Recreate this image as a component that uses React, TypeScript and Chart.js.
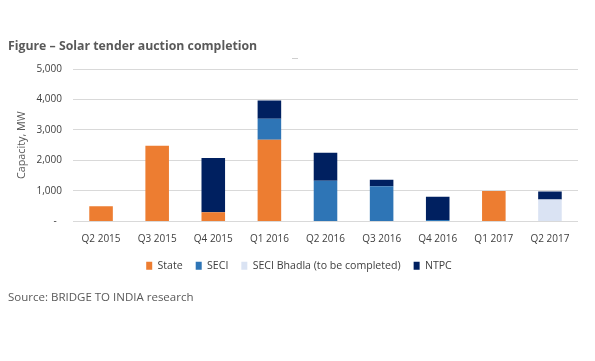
import React, { useEffect, useRef } from "react";
import { Chart, registerables } from "chart.js";

Chart.register(...registerables);

const categories = ["Q2 2015", "Q3 2015", "Q4 2015", "Q1 2016", "Q2 2016", "Q3 2016", "Q4 2016", "Q1 2017", "Q2 2017"];
const stateValues = [500, 2480, 300, 2680, 0, 0, 0, 1000, 0];
const seciValues = [0, 0, 0, 690, 1330, 1150, 50, 0, 0];
const bhadlaValues = [0, 0, 0, 0, 0, 0, 0, 0, 720];
const ntpcValues = [0, 0, 1780, 600, 920, 220, 760, 0, 260];
const yTicks = [0, 1000, 2000, 3000, 4000, 5000];

const titleText = "Figure \u2013 Solar tender auction completion";
const sourceText = "Source: BRIDGE TO INDIA research";
const FONT = "'Open Sans', 'Liberation Sans', sans-serif";
const TEXT = "#595959";

const textPlugin = {
  id: "texts",
  afterDraw(chart: any) {
    const ctx = chart.ctx;
    ctx.save();
    ctx.fillStyle = TEXT;
    ctx.textBaseline = "middle";
    ctx.textAlign = "left";
    ctx.font = `bold 12.3px ${FONT}`;
    ctx.fillText(titleText, 8, 46);
    ctx.font = `11.5px ${FONT}`;
    ctx.fillText(sourceText, 8, 298);
    ctx.strokeStyle = "#cfcfcf";
    ctx.lineWidth = 1;
    ctx.beginPath();
    ctx.moveTo(292, 58.5);
    ctx.lineTo(298, 58.5);
    ctx.stroke();
    ctx.restore();
  },
};

export default function App() {
  const ref = useRef<HTMLCanvasElement>(null);
  useEffect(() => {
    document.body.style.margin = "0";
    const chart = new Chart(ref.current as HTMLCanvasElement, {
      type: "bar",
      data: {
        labels: categories,
        datasets: [
          { label: "State", data: stateValues, backgroundColor: "#ED7D31" },
          { label: "SECI", data: seciValues, backgroundColor: "#2E75B6" },
          { label: "SECI Bhadla (to be completed)", data: bhadlaValues, backgroundColor: "#DAE3F3" },
          { label: "NTPC", data: ntpcValues, backgroundColor: "#002060" },
        ],
      },
      options: {
        animation: false,
        responsive: false,
        maintainAspectRatio: false,
        datasets: { bar: { categoryPercentage: 1, barPercentage: 0.42, borderWidth: 0 } },
        layout: { padding: { left: 20, right: 17, top: 69, bottom: 80 } },
        plugins: {
          legend: {
            position: "bottom",
            labels: {
              boxWidth: 6,
              boxHeight: 8,
              padding: 13,
              color: "#404040",
              font: { family: FONT, size: 10.6 },
            },
          },
          tooltip: { enabled: false },
        },
        scales: {
          x: {
            stacked: true,
            grid: { display: false },
            border: { display: false },
            ticks: { color: "#404040", font: { family: FONT, size: 10 }, padding: 4, maxRotation: 0 },
            afterFit(scale: any) {
              scale.height = scale.height - 2;
            },
          },
          y: {
            stacked: true,
            min: 0,
            max: 5000,
            afterBuildTicks(scale: any) {
              scale.ticks = yTicks.map((v) => ({ value: v }));
            },
            afterFit(scale: any) {
              scale.width = 53;
            },
            grid: { color: "#D9D9D9", drawTicks: false },
            border: { display: false },
            ticks: {
              color: "#404040",
              padding: 11,
              font: { family: FONT, size: 10 },
              callback: (v: any) => (Number(v) === 0 ? "-  " : Number(v).toLocaleString("en-US")),
            },
            title: {
              display: true,
              text: "Capacity, MW",
              color: TEXT,
              font: { family: FONT, size: 10.8 },
              padding: { top: -4.5, bottom: 0 },
            },
          },
        },
      },
      plugins: [textPlugin],
    });
    return () => chart.destroy();
  }, []);
  return <canvas ref={ref} width={595} height={361} style={{ display: "block" }} />;
}
